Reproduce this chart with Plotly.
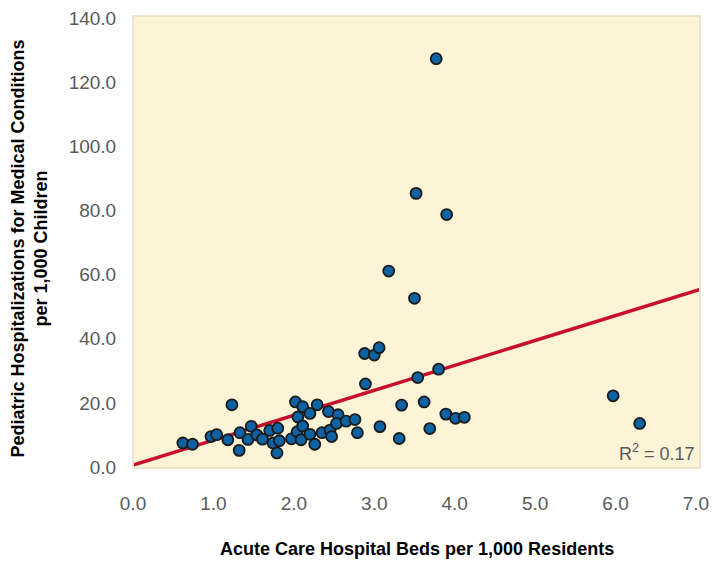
import plotly.graph_objects as go

# Acute care beds per 1,000 residents vs pediatric hospitalizations per 1,000 children
beds = [0.62, 0.74, 0.97, 1.04, 1.18, 1.23, 1.33, 1.32, 1.43, 1.47,
        1.54, 1.61, 1.70, 1.74, 1.79, 1.80, 1.82, 1.97, 2.02, 2.05,
        2.04, 2.09, 2.11, 2.11, 2.20, 2.20, 2.26, 2.29, 2.35, 2.43,
        2.45, 2.47, 2.55, 2.53, 2.65, 2.76, 2.79, 2.88, 3.00, 3.06,
        2.89, 3.54, 3.80, 3.34, 3.62, 3.89, 4.01, 4.12, 3.07, 3.69,
        3.31, 3.77, 3.52, 3.90, 3.18, 3.50, 5.97, 6.30]
hosp = [7.5, 7.1, 9.5, 10.1, 8.5, 19.4, 10.7, 5.2, 8.6, 12.7,
        10.0, 8.7, 11.4, 7.5, 4.4, 12.1, 8.2, 8.8, 20.3, 15.6,
        11.0, 8.5, 18.8, 12.8, 16.7, 10.2, 7.1, 19.4, 10.7, 17.3,
        11.5, 9.5, 16.3, 13.6, 14.3, 14.8, 10.7, 35.4, 34.9, 37.2,
        25.9, 27.9, 30.5, 19.3, 20.3, 16.5, 15.2, 15.5, 12.6, 12.0,
        8.9, 127.3, 85.3, 78.7, 61.1, 52.6, 22.2, 13.6]

# Fitted trend line endpoints
trend_x = [0.0, 7.05]
trend_y = [0.6, 55.4]

x_ticks = [0, 1, 2, 3, 4, 5, 6, 7]
y_ticks = [0, 20, 40, 60, 80, 100, 120, 140]
r_squared = "0.17"

fig = go.Figure()
fig.add_trace(go.Scatter(
    x=trend_x, y=trend_y, mode="lines",
    line=dict(color="#c8102e", width=3.5),
    hoverinfo="skip", showlegend=False))
fig.add_trace(go.Scatter(
    x=beds, y=hosp, mode="markers",
    marker=dict(size=11, color="#0d62a3", line=dict(color="#1a1a1a", width=1.8)),
    showlegend=False))

tick_font = dict(family="Liberation Sans, Arial, sans-serif", size=19, color="#5a5a5a")
title_font = dict(family="Liberation Sans, Arial, sans-serif", size=18, color="#000000")

fig.update_layout(
    width=713, height=562,
    margin=dict(l=133, r=13, t=16, b=94, autoexpand=False),
    paper_bgcolor="#ffffff",
    plot_bgcolor="#fdf3d6",
    xaxis=dict(range=[0, 7.05], tickvals=x_ticks,
               ticktext=[f"{v:.1f}" for v in x_ticks],
               showgrid=False, zeroline=False, showline=False,
               ticks="outside", ticklen=18, tickcolor="rgba(0,0,0,0)",
               tickfont=tick_font, automargin=False),
    yaxis=dict(range=[-0.3, 140.6], tickvals=y_ticks,
               ticktext=[f"{v:.1f}" for v in y_ticks],
               showgrid=False, zeroline=False, showline=False,
               ticks="outside", ticklen=12, tickcolor="rgba(0,0,0,0)",
               tickfont=tick_font, automargin=False),
    annotations=[
        dict(text="<b>Acute Care Hospital Beds per 1,000 Residents</b>",
             xref="paper", yref="paper", x=0.5, y=-0.179,
             xanchor="center", yanchor="middle", showarrow=False,
             font=title_font),
        dict(text="<b>Pediatric Hospitalizations for Medical Conditions<br>per 1,000 Children</b>",
             xref="paper", yref="paper", x=-0.182, y=0.485,
             xanchor="center", yanchor="middle", showarrow=False,
             textangle=-90, font=title_font),
        dict(text=f"R<sup>2</sup> = {r_squared}",
             xref="paper", yref="paper", x=0.995, y=0.035,
             xanchor="right", yanchor="middle", showarrow=False,
             font=dict(family="Liberation Sans, Arial, sans-serif", size=18, color="#5a5a5a")),
    ],
    shapes=[
        dict(type="rect", xref="paper", yref="paper", x0=0, x1=1, y0=0, y1=1,
             line=dict(color="#ece4cf", width=2), layer="above"),
    ],
)

fig.write_html("out.html")
